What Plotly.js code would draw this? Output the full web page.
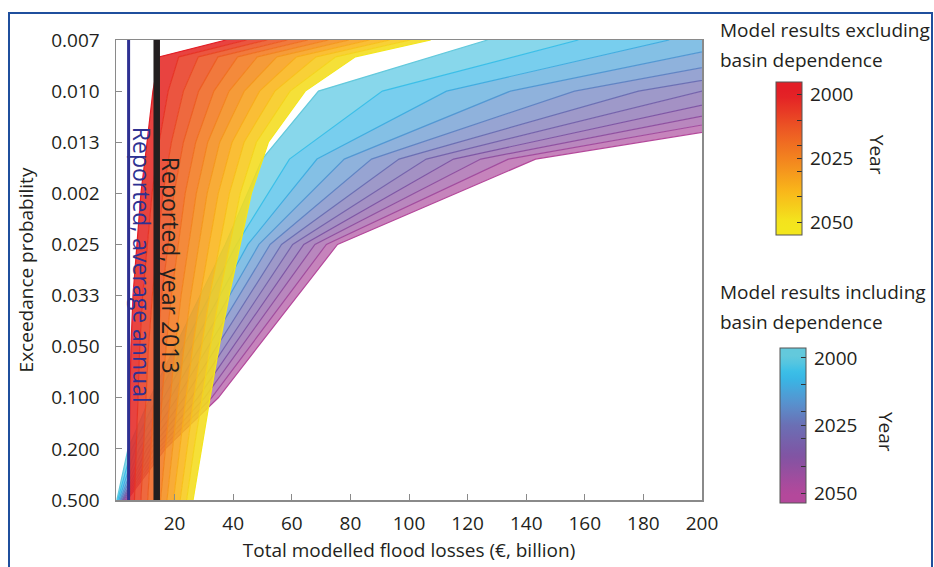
<!DOCTYPE html>
<html>
<head>
<meta charset="utf-8">
<script src="https://cdn.plot.ly/plotly-3.0.1.min.js"></script>
<style>
html,body{margin:0;padding:0;background:#fff;}
#wrap{position:relative;width:934px;height:567px;overflow:hidden;}
#chart{width:934px;height:567px;}
#frame{position:absolute;left:8px;top:12px;width:921px;height:600px;border:2.5px solid #1f4f9d;border-bottom:none;pointer-events:none;}
</style>
</head>
<body>
<div id="wrap"><div id="chart"></div><div id="frame"></div></div>
<script>
// ---- data ----
const probabilityLabels = ['0.500','0.200','0.100','0.050','0.033','0.025','0.002','0.013','0.010','0.007'];
const lossTicks = [20,40,60,80,100,120,140,160,180,200];
const years = [2000,2005,2010,2015,2020,2025,2030,2035,2040,2045,2050];

// Model results excluding basin dependence (losses, € billion) at probability positions
const excludingLevels = [0,1,2,3,4,5,6,7,8,8.67,9];
const excludingLosses = [
  [4.1, 4.4, 4.8, 5.1, 5.8, 7.2, 8.5, 10.6, 12.6, 14.7, 37.6],
  [6.3, 6.9, 7.5, 8.1, 9.1, 10.7, 12.3, 14.7, 17.8, 21.4, 44.6],
  [8.5, 9.3, 10.3, 11.1, 12.4, 14.2, 16.0, 18.9, 23.0, 28.1, 51.6],
  [10.8, 11.8, 13.0, 14.1, 15.6, 17.8, 19.8, 23.0, 28.2, 34.8, 58.5],
  [13.0, 14.3, 15.7, 17.1, 18.9, 21.3, 23.6, 27.2, 33.4, 41.5, 65.5],
  [15.2, 16.8, 18.5, 20.2, 22.2, 24.8, 27.4, 31.3, 38.6, 48.2, 72.5],
  [17.4, 19.2, 21.2, 23.2, 25.5, 28.3, 31.1, 35.4, 43.8, 54.9, 79.5],
  [19.6, 21.7, 23.9, 26.2, 28.8, 31.8, 34.9, 39.6, 49.0, 61.6, 86.5],
  [21.9, 24.2, 26.6, 29.2, 32.0, 35.4, 38.7, 43.7, 54.2, 68.3, 93.4],
  [24.1, 26.6, 29.4, 32.2, 35.3, 38.9, 42.4, 47.9, 59.4, 75.0, 100.4],
  [26.3, 29.1, 32.1, 35.2, 38.6, 42.4, 46.2, 52.0, 64.6, 81.7, 107.4]
];

// Model results including basin dependence
const includingLevels = [0,1,2,3,5,6.67,8,9];
const includingLosses = [
  [0.3, 4.1, 11.6, 20.2, 37.3, 49.9, 69.1, 126.8],
  [0.6, 5.4, 13.9, 23.0, 41.1, 59.2, 90.9, 157.8],
  [1.0, 6.6, 16.3, 25.9, 45.0, 68.6, 112.8, 188.8],
  [1.4, 7.9, 18.6, 28.7, 48.8, 77.9, 134.6, 219.9],
  [1.7, 9.2, 20.9, 31.5, 52.6, 87.2, 156.5, 250.9],
  [2.1, 10.5, 23.3, 34.4, 56.5, 96.6, 178.3, 281.9],
  [2.4, 11.7, 25.6, 37.2, 60.3, 105.9, 200.1, 312.9],
  [2.7, 13.0, 27.9, 40.0, 64.1, 115.2, 222.0, 343.9],
  [3.1, 14.3, 30.2, 42.8, 67.9, 124.5, 243.8, 374.9],
  [3.5, 15.5, 32.6, 45.7, 71.8, 133.9, 265.7, 406.0],
  [3.8, 16.8, 34.9, 48.5, 75.6, 143.2, 287.5, 437.0]
];

const reportedAverageAnnual = 4.3;
const reportedYear2013 = 13.9;
const colorbarYears = [2000,2010,2020,2025,2030,2040,2050];
const colorbarLabels = ['2000','','','2025','','','2050'];

// ---- styles ----
const excludingScale = [[0,'#e31e26'],[0.25,'#ec5424'],[0.5,'#f3831f'],[0.75,'#f9b51a'],[1,'#f3e61d']];
const includingScale = [[0,'#63c9dc'],[0.12,'#33bdea'],[0.35,'#5a8ecc'],[0.5,'#6b6fb4'],[0.72,'#8054a3'],[1,'#b4489b']];
function hex2rgb(h){return [parseInt(h.slice(1,3),16),parseInt(h.slice(3,5),16),parseInt(h.slice(5,7),16)];}
function colorAt(scale,t){
  t=Math.max(0,Math.min(1,t));
  for(let i=1;i<scale.length;i++){
    if(t<=scale[i][0]){
      const a=scale[i-1], b=scale[i];
      const f=(t-a[0])/(b[0]-a[0]);
      const ca=hex2rgb(a[1]), cb=hex2rgb(b[1]);
      return ca.map((v,j)=>Math.round(v+(cb[j]-v)*f));
    }
  }
  return hex2rgb(scale[scale.length-1][1]);
}
function rgba(c,a){return 'rgba('+c[0]+','+c[1]+','+c[2]+','+a+')';}

function familyTraces(losses, levels, scale, fillAlpha){
  return years.map((yr,k)=>{
    const c=colorAt(scale,(yr-2000)/50);
    const cm=colorAt(scale,Math.max(0,(yr-2.5-2000)/50));
    return {type:'scatter',mode:'lines',x:losses[k],y:levels,
      line:{color:rgba(c,1),width:1.2},
      fill:k===0?'none':'tonextx',fillcolor:rgba(cm,fillAlpha),
      hoverinfo:'skip',showlegend:false};
  });
}

function colorbarTrace(scale, loYear, hiYear, cbx, cby, cblen){
  // value v = 4050 - year so that 2000 sits at the top of the bar
  const cmin=4050-hiYear, cmax=4050-loYear;
  const cs=[];
  for(let i=0;i<=20;i++){
    const t=i/20, v=cmin+t*(cmax-cmin), yr=4050-v;
    cs.push([t,rgba(colorAt(scale,(yr-2000)/50),1)]);
  }
  return {type:'scatter',mode:'markers',x:[null],y:[null],hoverinfo:'skip',showlegend:false,
    marker:{color:[cmin,cmax],cmin:cmin,cmax:cmax,colorscale:cs,showscale:true,
      colorbar:{x:cbx,xanchor:'left',y:cby,yanchor:'bottom',len:cblen,lenmode:'fraction',
        thickness:26,thicknessmode:'pixels',xpad:0,ypad:0,outlinewidth:1,outlinecolor:'#555',
        ticks:'inside',ticklen:5,tickcolor:'#333',tickwidth:1,
        tickvals:colorbarYears.map(y=>4050-y),ticktext:colorbarLabels.map(s=>s?'\u2009'+s:s),
        tickfont:{size:19,color:'#231f20',family:'Open Sans'}}}};
}

const traces = []
  .concat(familyTraces(includingLosses, includingLevels, includingScale, 0.68))
  .concat(familyTraces(excludingLosses, excludingLevels, excludingScale, 0.88))
  .concat([
    colorbarTrace(excludingScale, 1995.1, 2054.9, 1.126, 0.576, 0.333),
    colorbarTrace(includingScale, 1996.3, 2053.7, 1.133, -0.0065, 0.337)
  ]);

const txt = {family:'Open Sans', size:19, color:'#231f20'};
const layout = {
  width:934, height:567,
  margin:{l:116, r:232, t:40, b:67},
  paper_bgcolor:'#ffffff', plot_bgcolor:'#ffffff',
  font:txt,
  showlegend:false,
  xaxis:{range:[0,200], tickvals:lossTicks, ticks:'inside', ticklen:6, tickcolor:'#8a8a8a',
    showline:true, linecolor:'#8a8a8a', linewidth:1.5, mirror:true, showgrid:false, zeroline:false,
    tickfont:txt, ticklabelstandoff:6, automargin:false,
    title:{text:'Total modelled flood losses (€, billion)', font:txt, standoff:8}},
  yaxis:{range:[0,9], tickvals:[0,1,2,3,4,5,6,7,8,9], ticktext:probabilityLabels, ticks:'inside',
    ticklen:6, tickcolor:'#8a8a8a', showline:true, linecolor:'#8a8a8a', linewidth:1.5, mirror:true,
    showgrid:false, zeroline:false, tickfont:txt, ticklabelstandoff:11, automargin:false,
    title:{text:'Exceedance probability', font:txt, standoff:12}},
  shapes:[
    {type:'line', xref:'x', yref:'y domain', x0:reportedAverageAnnual, x1:reportedAverageAnnual, y0:0, y1:1,
      line:{color:'#2e3192', width:3}},
    {type:'line', xref:'x', yref:'y domain', x0:reportedYear2013, x1:reportedYear2013, y0:0, y1:1,
      line:{color:'#231f20', width:6.5}}
  ],
  annotations:[
    {text:'Reported, average annual', xref:'x', yref:'y', x:8.9, y:4.6, textangle:90, showarrow:false,
      xanchor:'center', yanchor:'middle', font:{family:'Open Sans', size:23, color:'#2e3192'}},
    {text:'Reported, year 2013', xref:'x', yref:'y', x:18.8, y:4.6, textangle:90, showarrow:false,
      xanchor:'center', yanchor:'middle', font:{family:'Open Sans', size:23, color:'#231f20'}},
    {text:'Model results excluding', xref:'paper', yref:'paper', x:1.027, y:1.022, xanchor:'left', yanchor:'middle', showarrow:false, font:txt},
    {text:'basin dependence', xref:'paper', yref:'paper', x:1.027, y:0.9565, xanchor:'left', yanchor:'middle', showarrow:false, font:txt},
    {text:'Model results including', xref:'paper', yref:'paper', x:1.027, y:0.452, xanchor:'left', yanchor:'middle', showarrow:false, font:txt},
    {text:'basin dependence', xref:'paper', yref:'paper', x:1.027, y:0.387, xanchor:'left', yanchor:'middle', showarrow:false, font:txt},
    {text:'Year', xref:'paper', yref:'paper', x:1.299, y:0.75, textangle:90, showarrow:false,
      xanchor:'center', yanchor:'middle', font:txt},
    {text:'Year', xref:'paper', yref:'paper', x:1.314, y:0.148, textangle:90, showarrow:false,
      xanchor:'center', yanchor:'middle', font:txt}
  ]
};

Plotly.newPlot('chart', traces, layout, {displayModeBar:false, staticPlot:true});
</script>
</body>
</html>
